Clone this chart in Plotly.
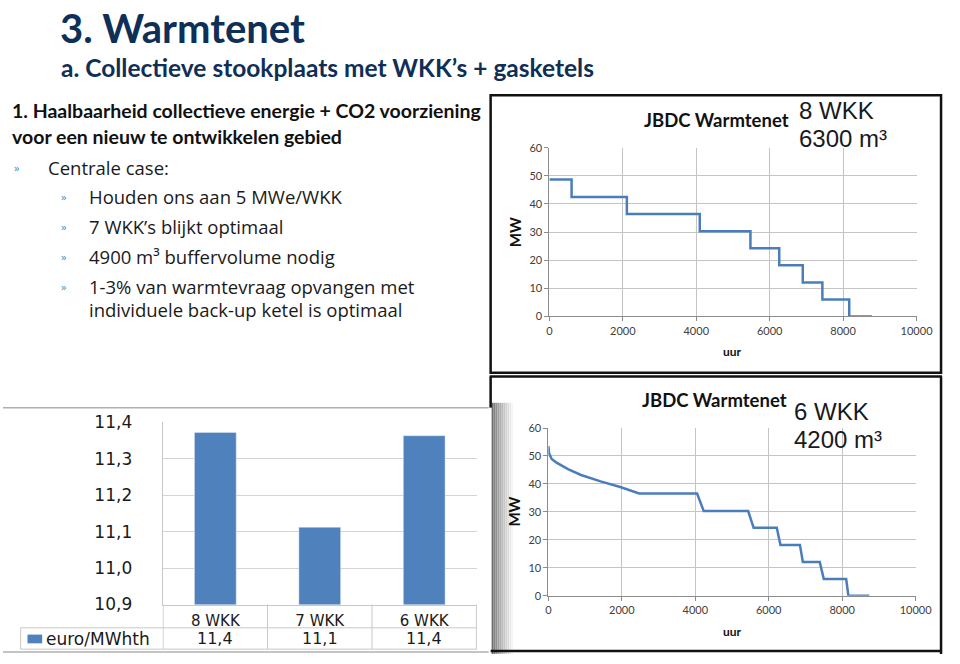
import plotly.graph_objects as go

W, H = 960, 664
def px(x): return x / W
def py(y): return 1 - y / H

# ---------------- DATA ----------------
hours_8wkk = [0, 605, 2110, 4096, 5476, 6260, 6901, 7435, 8166, 8789]
mw_8wkk = [48.7, 42.5, 36.4, 30.3, 24.3, 18.2, 12.1, 6.0, 0.0, 0.0]

hours_6wkk = [0, 18, 89, 222, 533, 889, 1422, 1956, 2471, 4050, 4230, 5440, 5590,
              6220, 6320, 6850, 6930, 7390, 7500, 8110, 8170, 8740]
mw_6wkk = [53.5, 51.0, 48.9, 47.6, 45.3, 43.2, 40.9, 38.9, 36.6, 36.6, 30.3, 30.3, 24.3,
           24.3, 18.2, 18.2, 12.1, 12.1, 6.0, 6.0, 0.0, 0.0]

bar_categories = ["8 WKK", "7 WKK", "6 WKK"]
bar_costs = [11.372, 11.112, 11.363]
bar_series_name = "euro/MWhth"
bar_ticks = [10.9, 11.0, 11.1, 11.2, 11.3, 11.4]
bar_ticktext = ["10,9", "11,0", "11,1", "11,2", "11,3", "11,4"]

hour_ticks = [0, 2000, 4000, 6000, 8000, 10000]
mw_ticks = [0, 10, 20, 30, 40, 50, 60]

title_main = "3. Warmtenet"
title_sub = "a. Collectieve stookplaats met WKK’s + gasketels"
heading = ["1. Haalbaarheid collectieve energie + CO2 voorziening",
           "voor een nieuw te ontwikkelen gebied"]
bullet_main = "Centrale case:"
sub_bullets = ["Houden ons aan 5 MWe/WKK", "7 WKK’s blijkt optimaal",
               "4900 m³ buffervolume nodig", "1-3% van warmtevraag opvangen met"]
sub_bullet_cont = "individuele back-up ketel is optimaal"

# ---------------- STYLE ----------------
LINE_BLUE = "#4a7ebb"
BAR_BLUE = "#4f81bd"
NAVY = "#0f2f57"
GRID = "#c4c4c4"
TICKC = "#404040"

fig = go.Figure()

fig.add_trace(go.Scatter(x=hours_8wkk, y=mw_8wkk, mode="lines", line_shape="hv",
                         line=dict(color=LINE_BLUE, width=2.5), xaxis="x", yaxis="y",
                         showlegend=False, name="8 WKK"))
fig.add_trace(go.Scatter(x=hours_6wkk, y=mw_6wkk, mode="lines",
                         line=dict(color=LINE_BLUE, width=2.5), xaxis="x2", yaxis="y2",
                         showlegend=False, name="6 WKK"))
fig.add_trace(go.Bar(x=bar_categories, y=bar_costs, marker_color=BAR_BLUE,
                     xaxis="x3", yaxis="y3", showlegend=False, name=bar_series_name))

line_x = dict(range=[0, 10000], tickvals=hour_ticks, tickformat="d", showgrid=True,
              gridcolor=GRID, gridwidth=1, showline=True, linecolor="#8c8c8c",
              ticks="outside", ticklen=4, tickcolor="#8c8c8c", zeroline=False,
              tickfont=dict(family="Lato", size=11, color=TICKC), fixedrange=True)
line_y = dict(range=[0, 60], tickvals=mw_ticks, showgrid=True, gridcolor=GRID,
              gridwidth=1, showline=True, linecolor="#8c8c8c", ticks="outside",
              ticklen=4, tickcolor="#8c8c8c", zeroline=False,
              tickfont=dict(family="Lato", size=11, color=TICKC), fixedrange=True)

fig.update_layout(
    width=W, height=H, margin=dict(l=0, r=0, t=0, b=0),
    paper_bgcolor="white", plot_bgcolor="white", separators=",.",
    bargap=0.6,
    xaxis=dict(domain=[px(558), px(933)], anchor="y", **line_x),
    yaxis=dict(domain=[py(316), py(142)], anchor="x", **line_y),
    xaxis2=dict(domain=[px(557), px(932)], anchor="y2", **line_x),
    yaxis2=dict(domain=[py(604), py(431)], anchor="x2", **line_y),
    xaxis3=dict(domain=[px(163), px(484)], anchor="y3", type="category",
                showline=True, linecolor="#c8c8c8", ticks="", showgrid=False,
                ticklabelstandoff=2,
                tickfont=dict(family="DejaVu Sans", size=15, color="#1a1a1a"),
                fixedrange=True),
    yaxis3=dict(domain=[py(613), py(425)], anchor="x3", range=[10.9, 11.4],
                tickvals=bar_ticks, ticktext=bar_ticktext, showgrid=True,
                gridcolor="#d4d4d4", showline=True, linecolor="#c8c8c8",
                ticks="", ticklabelstandoff=26, zeroline=False,
                tickfont=dict(family="DejaVu Sans", size=17, color="#1a1a1a"),
                fixedrange=True),
)

shapes = []
ann = []

# ---- slide text ----
ann.append(dict(text=f"<b>{title_main}</b>", x=px(56), y=py(19), xanchor="left",
                yanchor="middle", font=dict(family="Lato", size=40, color=NAVY)))
ann.append(dict(text=f"<b>{title_sub}</b>", x=px(57), y=py(59), xanchor="left",
                yanchor="middle", font=dict(family="Lato", size=24.5, color=NAVY)))
for t, yy in zip(heading, [104, 130]):
    ann.append(dict(text=f"<b>{t}</b>", x=px(7), y=py(yy), xanchor="left",
                    yanchor="middle", font=dict(family="Lato", size=19.5, color="#111111")))
ann.append(dict(text="»", x=px(9), y=py(162), xanchor="left", yanchor="middle",
                font=dict(family="Open Sans", size=11, color="#4a8fc0")))
ann.append(dict(text=bullet_main, x=px(44), y=py(162), xanchor="left", yanchor="middle",
                font=dict(family="Open Sans", size=18.5, color="#1a1a1a")))
for t, yy in zip(sub_bullets, [192, 223, 254, 285]):
    ann.append(dict(text="»", x=px(57), y=py(yy), xanchor="left", yanchor="middle",
                    font=dict(family="Open Sans", size=11, color="#4a8fc0")))
    ann.append(dict(text=t, x=px(86), y=py(yy), xanchor="left", yanchor="middle",
                    font=dict(family="Open Sans", size=18.5, color="#1a1a1a")))
ann.append(dict(text=sub_bullet_cont, x=px(86), y=py(309), xanchor="left",
                yanchor="middle", font=dict(family="Open Sans", size=18.5, color="#1a1a1a")))

# ---- right panels: frames ----
shapes.append(dict(type="rect", xref="paper", yref="paper", x0=px(498), x1=px(958),
                   y0=py(374), y1=py(88), line=dict(color="#111111", width=2.5)))
for (x0, y0, x1, y1) in [(497, 378, 959, 378), (958, 378, 958, 664),
                         (498, 378, 498, 410), (498, 661, 958, 661)]:
    shapes.append(dict(type="line", xref="paper", yref="paper", x0=px(x0), x1=px(x1),
                       y0=py(y0), y1=py(y1), line=dict(color="#111111", width=2.5)))
# shadow on left of lower panel
n = 12
for i in range(n):
    c = int(110 + (255 - 110) * (i / (n - 1)) ** 0.8)
    shapes.append(dict(type="rect", xref="paper", yref="paper", x0=px(499 + 2 * i),
                       x1=px(501 + 2 * i), y0=py(664), y1=py(405),
                       line=dict(width=0), fillcolor=f"rgb({c},{c},{c})", layer="below"))

# ---- line chart labels ----
for tx, ty, labx, laby, t1, t2, mwx, mwy, uy in [
    (729, 113, 811, 104, "8 WKK", "6300 m³", 523, 229, 352),
    (727, 402, 806, 414, "6 WKK", "4200 m³", 522, 517, 641),
]:
    ann.append(dict(text="<b>JBDC Warmtenet</b>", x=px(tx), y=py(ty), xanchor="center",
                    yanchor="middle", font=dict(family="Lato", size=18.5, color="#111111")))
    ann.append(dict(text=t1, x=px(labx), y=py(laby), xanchor="left", yanchor="middle",
                    font=dict(family="Liberation Sans", size=24, color="#1a1a1a")))
    ann.append(dict(text=t2, x=px(labx), y=py(laby + 29), xanchor="left", yanchor="middle",
                    font=dict(family="Liberation Sans", size=24, color="#1a1a1a")))
    ann.append(dict(text="<b>MW</b>", x=px(mwx), y=py(mwy), textangle=-90,
                    xanchor="center", yanchor="middle",
                    font=dict(family="Lato", size=15, color="#111111")))
    ann.append(dict(text="<b>uur</b>", x=px(745), y=py(uy), xanchor="center",
                    yanchor="middle", font=dict(family="Lato", size=12, color="#111111")))

# ---- bar chart panel & table ----
TBL = "#c8c8c8"
shapes.append(dict(type="line", xref="paper", yref="paper", x0=0, x1=px(496),
                   y0=py(410), y1=py(410), line=dict(color="#b0b0b0", width=1.5)))
shapes.append(dict(type="line", xref="paper", yref="paper", x0=0, x1=px(496),
                   y0=py(662), y1=py(662), line=dict(color="#b0b0b0", width=1.5)))
for yy in [637, 659]:
    shapes.append(dict(type="line", xref="paper", yref="paper", x0=px(18), x1=px(484),
                       y0=py(yy), y1=py(yy), line=dict(color=TBL, width=1)))
shapes.append(dict(type="line", xref="paper", yref="paper", x0=px(18), x1=px(18),
                   y0=py(637), y1=py(659), line=dict(color=TBL, width=1)))
for i in range(len(bar_categories) + 1):
    shapes.append(dict(type="line", xref="x3", yref="paper", x0=i - 0.5, x1=i - 0.5,
                       y0=py(659), y1=py(613), line=dict(color=TBL, width=1)))
shapes.append(dict(type="rect", xref="paper", yref="paper", x0=px(25), x1=px(40),
                   y0=py(653), y1=py(644), line=dict(width=0), fillcolor=BAR_BLUE))
ann.append(dict(text=bar_series_name, x=px(42), y=py(648.5), xanchor="left",
                yanchor="middle", font=dict(family="DejaVu Sans", size=17, color="#1a1a1a")))
for c, v in zip(bar_categories, bar_costs):
    ann.append(dict(text=f"{v:.1f}".replace(".", ","), x=c, xref="x3", y=py(648.5),
                    yref="paper", xanchor="center", yanchor="middle",
                    font=dict(family="DejaVu Sans", size=16, color="#1a1a1a")))

for a in ann:
    a.setdefault("xref", "paper")
    a.setdefault("yref", "paper")
    a["showarrow"] = False

fig.update_layout(shapes=shapes, annotations=ann)
fig.write_html("out.html")
